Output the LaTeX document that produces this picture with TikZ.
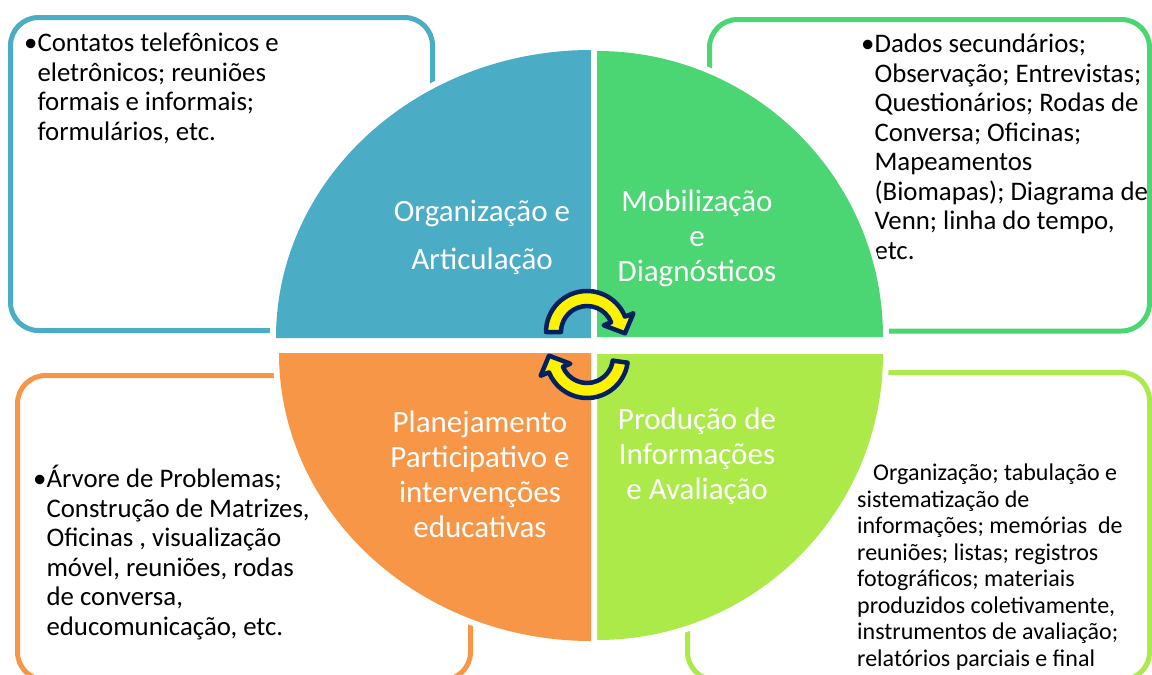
\documentclass[tikz,border=0pt]{standalone}
\usepackage{fontspec}
\setmainfont{Carlito}

\definecolor{artblue}{HTML}{4BACC6}
\definecolor{mobgreen}{HTML}{4BD673}
\definecolor{planorange}{HTML}{F79646}
\definecolor{prodlime}{HTML}{ACEA4A}
\definecolor{arrownavy}{HTML}{002060}

\newcommand{\hang}{\hphantom{\textbullet}}

\begin{document}
\begin{tikzpicture}[x=1pt, y=-1pt,
    infobox/.style={draw=#1, line width=5, rounded corners=28},
    quarter/.style={fill=#1, preaction={draw=white, line width=12, line join=round}},
    bodytext/.style={font=\fontsize{26.8}{29.5}\selectfont, align=left, inner sep=0, anchor=north west},
    phase/.style={text=white, font=\fontsize{31}{35}\selectfont, align=center, inner sep=0, anchor=north},
    cyclearrow/.style={fill=yellow, draw=arrownavy, line width=4.5, line join=round}]

    % Fix the page size
    \useasboundingbox (0,0) rectangle (1152,675);

    % Outer boxes with the tools of each phase
    \draw[infobox=artblue] (10.5,17.5) rectangle (432.5,330.5);
    \draw[infobox=mobgreen] (709.5,19.5) rectangle (1149.5,331);
    \draw[infobox=planorange] (17.5,375.5) rectangle (470.5,680);
    \draw[infobox=prodlime] (687.5,372.5) rectangle (1149.5,680);

    % Texts of the boxes
    \node[bodytext] (tltext) at (24,33) {\textbullet Contatos telefônicos e\\
        \hang eletrônicos; reuniões\\
        \hang formais e informais;\\
        \hang formulários, etc.};
    \node[bodytext] (trtext) at (861,34) {\textbullet Dados secundários;\\
        \hang Observação; Entrevistas;\\
        \hang Questionários; Rodas de\\
        \hang Conversa; Oficinas;\\
        \hang Mapeamentos\\
        \hang (Biomapas); Diagrama de\\
        \hang Venn; linha do tempo,\\
        \hang etc.};
    \node[bodytext] (bltext) at (33,465) {\textbullet Árvore de Problemas;\\
        \hang Construção de Matrizes,\\
        \hang Oficinas , visualização\\
        \hang móvel, reuniões, rodas\\
        \hang de conversa,\\
        \hang educomunicação, etc.};
    \node[bodytext, font=\fontsize{24}{26.5}\selectfont] (brtext) at (857,464) {\hspace*{16pt}Organização; tabulação e\\
        sistematização de\\
        informações; memórias\ \ de\\
        reuniões; listas; registros\\
        fotográficos; materiais\\
        produzidos coletivamente,\\
        instrumentos de avaliação;\\
        relatórios parciais e final};

    % The four quarters of the cycle
    \fill[quarter=artblue] (591,338) -- (276,338)
        arc[start angle=180, end angle=270, x radius=315, y radius=288] -- cycle;
    \fill[quarter=mobgreen] (597,337) -- (597,51)
        arc[start angle=270, end angle=360, radius=286] -- cycle;
    \fill[quarter=prodlime] (597,354) -- (883,354)
        arc[start angle=0, end angle=90, radius=286] -- cycle;
    \fill[quarter=planorange] (591,353) -- (591,641)
        arc[start angle=90, end angle=180, x radius=312, y radius=288] -- cycle;

    % Names of the phases
    \node[phase, font=\fontsize{31}{48}\selectfont] (org) at (482,200) {Organização e\\Articulação};
    \node[phase] (mob) at (697,190) {Mobilização\\e\\Diagnósticos};
    \node[phase] (plan) at (480,411) {Planejamento\\Participativo e\\intervenções\\educativas};
    \node[phase] (prod) at (697,408) {Produção de\\Informações\\e Avaliação};

    % Curved arrows in the middle
    \begin{scope}[shift={(587,332)}, yscale=-1]
        \draw[cyclearrow] (180:41) arc[start angle=180, end angle=22, radius=41]
            -- (22:50) -- (-2:38) -- (22:18) -- (22:26)
            arc[start angle=22, end angle=180, radius=26] -- cycle;
    \end{scope}
    \begin{scope}[shift={(587,357)}, yscale=-1]
        \draw[cyclearrow] (-8:41) arc[start angle=-8, end angle=-158, radius=41]
            -- (-158:50) -- (178:38) -- (-158:18) -- (-158:26)
            arc[start angle=-158, end angle=-8, radius=26] -- cycle;
    \end{scope}

\end{tikzpicture}
\end{document}
